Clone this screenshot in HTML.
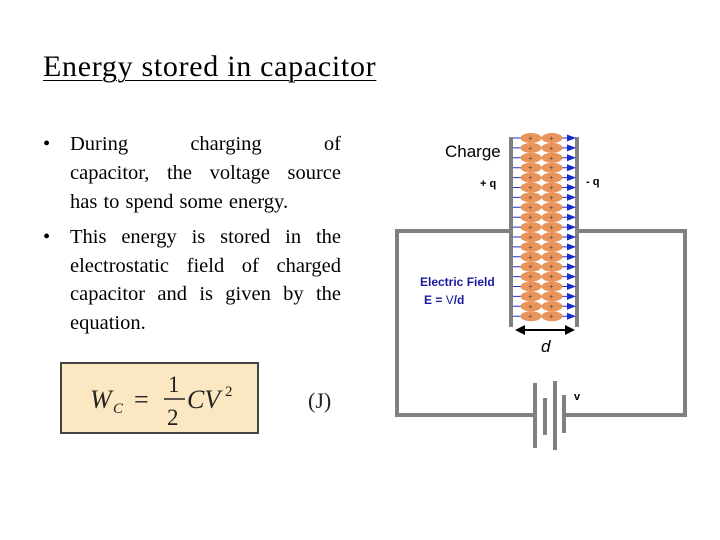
<!DOCTYPE html>
<html><head><style>
body{margin:0;width:720px;height:540px;background:#fff;position:relative;overflow:hidden;font-family:"Liberation Serif",serif;}
.t{position:absolute;left:43px;top:50px;font-size:30px;letter-spacing:0.7px;text-decoration:underline;text-underline-offset:4px;text-decoration-thickness:1px;white-space:nowrap;}
.b{position:absolute;left:43px;width:298px;font-size:20.5px;line-height:29px;}
.b div{padding-left:27px;}
.j{text-align:justify;text-align-last:justify;}
.d{position:absolute;left:0;}
</style></head><body>
<div class="t">Energy stored in capacitor</div>
<div class="b" style="top:130px">
<span class="d">•</span>
<div class="j">During charging of</div>
<div class="j">capacitor, the voltage source</div>
<div style="word-spacing:1px">has to spend some energy.</div>
</div>
<div class="b" style="top:223px;line-height:28.7px">
<span class="d">•</span>
<div class="j">This energy is stored in the</div>
<div class="j">electrostatic field of charged</div>
<div class="j">capacitor and is given by the</div>
<div>equation.</div>
</div>
<svg width="720" height="540" style="position:absolute;left:0;top:0">
<rect x="61" y="363" width="197" height="70" fill="#fbe8c2" stroke="#444" stroke-width="2"/>
<g font-family="Liberation Serif,serif" fill="#222">
<text x="90" y="408" font-size="26" font-style="italic">W</text>
<text x="113" y="413" font-size="15" font-style="italic">C</text>
<text x="134" y="408" font-size="26">=</text>
<text x="168" y="392" font-size="23">1</text>
<line x1="164" y1="399" x2="185" y2="399" stroke="#222" stroke-width="1.5"/>
<text x="167" y="425" font-size="23">2</text>
<text x="187" y="408" font-size="26" font-style="italic">CV</text>
<text x="225" y="396" font-size="15">2</text>
<text x="308" y="408" font-size="22">(J)</text>
</g>
<g stroke="#808080" stroke-width="4" fill="none">
<polyline points="509,231 397,231 397,415 535,415"/>
<polyline points="579,231 685,231 685,415 564,415"/>
<line x1="511" y1="137" x2="511" y2="327"/>
<line x1="577" y1="137" x2="577" y2="327"/>
<line x1="535" y1="383" x2="535" y2="448"/>
<line x1="545" y1="398" x2="545" y2="435"/>
<line x1="555" y1="381" x2="555" y2="450"/>
<line x1="564" y1="395" x2="564" y2="433"/>
</g>
<g id="rows"></g>
<g stroke="#000" stroke-width="2"><line x1="522" y1="330" x2="568" y2="330"/></g>
<polygon points="515,330 525,325 525,335" fill="#000"/>
<polygon points="575,330 565,325 565,335" fill="#000"/>
<g font-family="Liberation Sans,sans-serif">
<text x="445" y="157" font-size="17">Charge</text>
<text x="480" y="187" font-size="11" font-weight="bold">+ q</text>
<text x="586" y="185" font-size="11" font-weight="bold">- q</text>
<text x="420" y="286" font-size="12" font-weight="bold" fill="#1a1aa0">Electric Field</text>
<text x="424" y="304" font-size="12" font-weight="bold" fill="#1a1aa0">E = <tspan font-weight="normal">V</tspan>/d</text>
<text x="541" y="352" font-size="17" font-style="italic">d</text>
<text x="574" y="400" font-size="11" font-weight="bold">v</text>
</g>
</svg>
<script>
var g=document.getElementById('rows'),s='';
for(var i=0;i<19;i++){var y=138+i*9.9;
s+='<line x1="513" y1="'+y+'" x2="570" y2="'+y+'" stroke="#2233cc" stroke-width="1"/>';
s+='<polygon points="567,'+(y-3.5)+' 576,'+y+' 567,'+(y+3.5)+'" fill="#1a2ad0"/>';
s+='<ellipse cx="531" cy="'+y+'" rx="10.5" ry="5" fill="#e8945a"/><ellipse cx="552" cy="'+y+'" rx="10.5" ry="5" fill="#e8945a"/>';
s+='<text x="528" y="'+(y+3)+'" font-size="8" fill="#333">+</text><text x="549" y="'+(y+3)+'" font-size="8" fill="#333">+</text>';}
g.innerHTML=s;
</script>
</body></html>
